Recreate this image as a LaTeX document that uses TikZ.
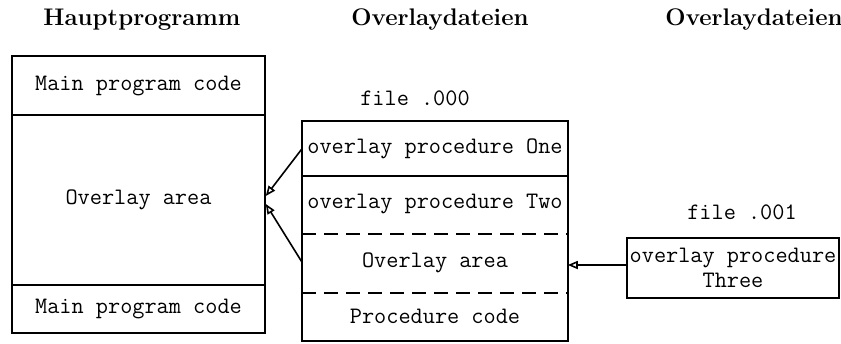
\documentclass[tikz,border=0pt]{standalone}
\usetikzlibrary{arrows.meta}
\tikzset{
  title/.style={font=\fontsize{12}{14}\selectfont\bfseries},
  cell/.style={inner sep=0pt, font=\fontsize{11.8}{12.5}\selectfont\ttfamily},
  box/.style={cell, draw},
  ovl/.style={-{Triangle[open,length=5pt,width=4pt]}},
}

\begin{document}
\begin{tikzpicture}[x=0.5pt,y=-0.5pt,thick]
  \useasboundingbox (0,0) rectangle (841,343);

  % headings
  \node[title] (hp)  at (142,20) {Hauptprogramm};
  \node[title] (od0) at (440,20) {Overlaydateien};
  \node[title] (od1) at (754,20) {Overlaydateien};

  % main program
  \node[box, minimum width=126.5pt, minimum height=29.5pt] (main1) at (138.5,85.5) {Main program code};
  \node[box, minimum width=126.5pt, minimum height=85pt] (area) at (138.5,200) {Overlay area};
  \node[box, minimum width=126.5pt, minimum height=24pt] (main2) at (138.5,309) {Main program code};

  % file .000
  \node[cell] (f0) at (415,98) {file .000};
  \node[cell, minimum width=132pt, minimum height=26.5pt] (one) at (435,148.5) {overlay procedure One};
  \node[cell, minimum width=132pt, minimum height=29pt] (two) at (435,204) {overlay procedure Two};
  \node[cell, minimum width=132pt, minimum height=29.5pt] (oarea) at (435,262.5) {Overlay area};
  \node[cell, minimum width=132pt, minimum height=24pt] (pcode) at (435,316) {Procedure code};
  \draw (one.north west) rectangle (pcode.south east);
  \draw (one.south west) -- (one.south east);
  \draw[dashed, dash pattern=on 7pt off 4pt] (two.south west) -- (two.south east);
  \draw[dashed, dash pattern=on 7pt off 4pt] (oarea.south west) -- (oarea.south east);

  % file .001
  \node[cell] (f1) at (742,212) {file .001};
  \node[box, align=center, minimum width=106pt, minimum height=30pt] (three) at (733,268) {overlay procedure\\Three};

  % overlays
  \draw[ovl] (one.west) -- ([yshift=2pt]area.east);
  \draw[ovl] (oarea.west) -- ([yshift=-2pt]area.east);
  \draw[ovl] ([yshift=1.5pt]three.west) -- ([yshift=1.5pt]three.west -| oarea.east);
\end{tikzpicture}
\end{document}
